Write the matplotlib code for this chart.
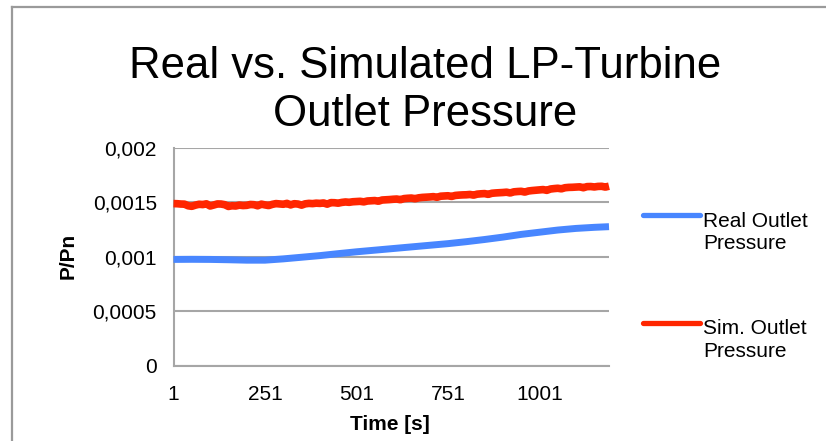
import numpy as np
import matplotlib
matplotlib.use("Agg")
import matplotlib.pyplot as plt
from matplotlib.lines import Line2D

# ---- data ----
title_lines = ["Real vs. Simulated LP-Turbine", "Outlet Pressure"]
x_label = "Time [s]"
y_label = "P/Pn"
series_names = ["Real Outlet\nPressure", "Sim. Outlet\nPressure"]

x_ticks = [1, 251, 501, 751, 1001]
x_tick_labels = ["1", "251", "501", "751", "1001"]
y_ticks = [0, 0.0005, 0.001, 0.0015, 0.002]
y_tick_labels = ["0", "0,0005", "0,001", "0,0015", "0,002"]

real_time = [1, 51, 101, 151, 201, 251, 301, 351, 401, 451, 501, 551, 601,
             651, 701, 751, 801, 851, 901, 951, 1001, 1051, 1101, 1151, 1191]
real_values = [0.000975, 0.000976, 0.000975, 0.000972, 0.000968, 0.000968,
               0.000980, 0.000995, 0.001010, 0.001028, 0.001045, 0.001060,
               0.001075, 0.001090, 0.001105, 0.001120, 0.001138, 0.001158,
               0.001180, 0.001205, 0.001225, 0.001245, 0.001260, 0.001270,
               0.001276]

sim_time = np.arange(1, 1192, 10)
sim_values_e3 = [
    1.488, 1.487, 1.484, 1.483, 1.468, 1.463, 1.474, 1.482, 1.479, 1.486,
    1.466, 1.475, 1.485, 1.484, 1.478, 1.462, 1.468, 1.466, 1.474, 1.470,
    1.472, 1.480, 1.478, 1.468, 1.483, 1.476, 1.470, 1.481, 1.488, 1.485,
    1.482, 1.490, 1.476, 1.487, 1.484, 1.474, 1.486, 1.490, 1.488, 1.492,
    1.490, 1.494, 1.483, 1.497, 1.496, 1.492, 1.499, 1.503, 1.500, 1.505,
    1.507, 1.509, 1.504, 1.512, 1.514, 1.516, 1.510, 1.521, 1.523, 1.525,
    1.528, 1.530, 1.524, 1.534, 1.537, 1.539, 1.533, 1.541, 1.545, 1.547,
    1.549, 1.552, 1.546, 1.556, 1.558, 1.560, 1.554, 1.563, 1.566, 1.568,
    1.569, 1.572, 1.566, 1.575, 1.578, 1.580, 1.573, 1.583, 1.586, 1.588,
    1.590, 1.593, 1.586, 1.596, 1.599, 1.601, 1.594, 1.604, 1.608, 1.611,
    1.614, 1.617, 1.610, 1.622, 1.626, 1.629, 1.624, 1.634, 1.637, 1.638,
    1.640, 1.642, 1.634, 1.644, 1.645, 1.641, 1.646, 1.647, 1.640, 1.648,
]
sim_values = [v * 1e-3 for v in sim_values_e3]

# ---- styling ----
plt.rcParams['font.family'] = ['Liberation Sans', 'DejaVu Sans']
BLUE = '#4886FF'
RED = '#FF2600'
GRID = '#A6A6A6'
W, H = 826, 441

fig = plt.figure(figsize=(W / 100, H / 100), dpi=100)
fig.patch.set_facecolor('white')

ax_l, ax_r, ax_t, ax_b = 173.5, 609, 147.9, 365.5
ax = fig.add_axes([ax_l / W, 1 - ax_b / H, (ax_r - ax_l) / W, (ax_b - ax_t) / H])

ax.plot(real_time, real_values, color=BLUE, lw=5, solid_capstyle='butt',
        solid_joinstyle='round', clip_on=False, zorder=3)
ax.plot(sim_time, sim_values, color=RED, lw=5.5, solid_capstyle='butt',
        solid_joinstyle='round', clip_on=False, zorder=4)

ax.set_xlim(1, 1191)
ax.set_ylim(0, 0.002)
ax.set_xticks(x_ticks)
ax.set_xticklabels(x_tick_labels)
ax.set_yticks(y_ticks)
ax.set_yticklabels(y_tick_labels)
ax.tick_params(axis='both', length=0, labelsize=15, colors='black')
ax.tick_params(axis='y', pad=12)
ax.tick_params(axis='x', pad=14)

ax.grid(axis='y', color=GRID, lw=1.5, zorder=1)
ax.set_axisbelow(True)
for s in ['top', 'right']:
    ax.spines[s].set_visible(False)
for s in ['left', 'bottom']:
    ax.spines[s].set_color(GRID)
    ax.spines[s].set_linewidth(1.5)

ax.set_xlabel(x_label, fontsize=15, fontweight='bold', va='center')
ax.xaxis.set_label_coords((390 - ax_l) / (ax_r - ax_l), -(425 - ax_b) / (ax_b - ax_t))
ax.set_ylabel(y_label, fontsize=15, fontweight='bold', va='center')
ax.yaxis.set_label_coords(-(ax_l - 68) / (ax_r - ax_l), (ax_b - 256) / (ax_b - ax_t))

# title (two lines)
for line, base in zip(title_lines, [78, 126]):
    fig.text(425 / W, 1 - base / H, line, ha='center', va='baseline', fontsize=31.5)

# legend (manual, Excel-like)
leg_rows = [(215, [226.7, 249.3]), (323.3, [334, 356.7])]
for (ly, bases), name, col in zip(leg_rows, series_names, [BLUE, RED]):
    fig.add_artist(Line2D([643 / W, 700 / W], [1 - ly / H, 1 - ly / H],
                          color=col, lw=3.8, solid_capstyle='round',
                          transform=fig.transFigure))
    for txt, b in zip(name.split('\n'), bases):
        fig.text(703 / W, 1 - b / H, txt, ha='left', va='baseline', fontsize=15)

# chart-area border (left and top)
fig.add_artist(Line2D([12 / W, 12 / W], [0, 1 - 6.5 / H], color='#9A9A9A', lw=1.6,
                      transform=fig.transFigure))
fig.add_artist(Line2D([12 / W, 1], [1 - 6.5 / H, 1 - 6.5 / H], color='#9A9A9A', lw=1.6,
                      transform=fig.transFigure))

fig.savefig('out.png', dpi=100)
